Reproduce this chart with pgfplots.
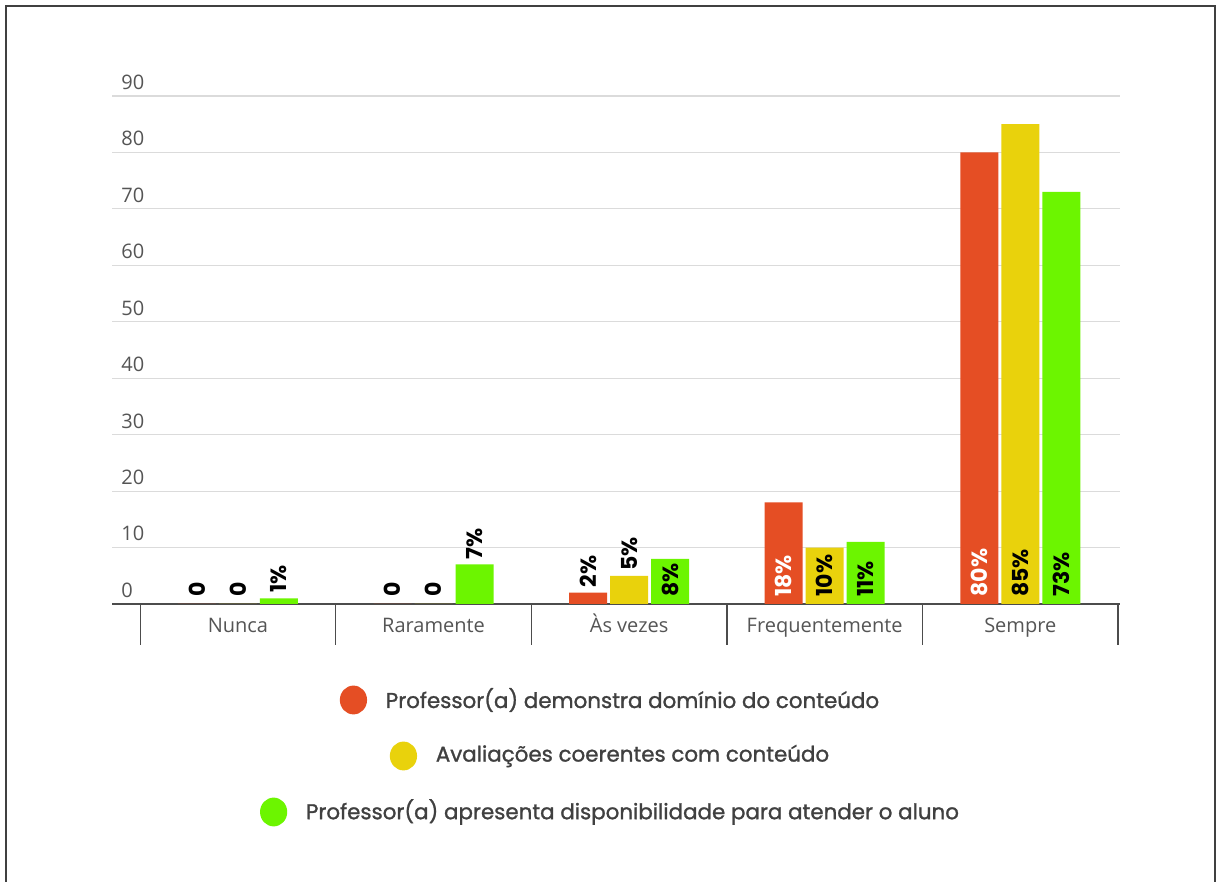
\documentclass[border=0pt]{standalone}
\usepackage{fontspec}
\usepackage{pgfplots}
\pgfplotsset{compat=1.18}
\setmainfont{Open Sans}
\newfontfamily\popfont{Poppins}
\newfontfamily\legfont{Poppins}[FakeBold=1.2]
\definecolor{cred}{HTML}{E54E24}
\definecolor{cyel}{HTML}{E9D20C}
\definecolor{cgrn}{HTML}{6CF500}
\definecolor{txtgray}{HTML}{555555}
\pgfplotsset{
  lbl/.style={draw=none, fill=none, forget plot, nodes near coords,
    point meta=explicit symbolic,
    nodes near coords style={rotate=90, anchor=west, text=#1,
      font=\popfont\bfseries\fontsize{11}{13}\selectfont}},
}
\begin{document}
\begin{tikzpicture}
\fill[white] (0,0) rectangle (610pt,441pt);
\useasboundingbox (0,0) rectangle (610pt,441pt);
\draw[black!75, line width=1pt] (3pt,0) -- (3pt,438pt) -- (607.5pt,438pt) -- (607.5pt,0);
\begin{axis}[
  at={(56pt,139pt)}, anchor=south west,
  scale only axis, width=504pt, height=254pt,
  ybar, bar width=19pt,
  xmin=-0.644, xmax=4.51, ymin=0, ymax=90,
  enlargelimits=false,
  axis lines*=left,
  y axis line style={draw=none},
  x axis line style={draw=black!70, line width=1.2pt},
  ytick={0,10,...,90},
  ytick style={draw=none},
  ymajorgrids, grid style={draw=black!14, line width=0.6pt},
  yticklabel style={anchor=south west, inner sep=0pt, xshift=4.5pt, yshift=3pt,
    text=txtgray, font=\fontsize{10}{12}\selectfont},
  /pgf/number format/assume math mode=true,
  xtick={0,...,4},
  xticklabels={Nunca,Raramente,Às vezes,Frequentemente,Sempre},
  major tick length=0pt,
  xtick style={draw=black!70, line width=0.6pt},
  xticklabel style={text=txtgray, font=\fontsize{10}{12}\selectfont,
    anchor=base, yshift=-14.5pt},
  tick align=outside,
  extra x ticks={-0.5,0.5,1.5,2.5,3.5,4.5},
  extra x tick labels={},
  extra x tick style={major tick length=20.5pt},
]
% bars
\addplot[bar shift=-20.5pt, fill=cred, draw=none] coordinates {(0,0) (1,0) (2,2) (3,18) (4,80)};
\addplot[bar shift=0pt, fill=cyel, draw=none] coordinates {(0,0) (1,0) (2,5) (3,10) (4,85)};
\addplot[bar shift=20.5pt, fill=cgrn, draw=none] coordinates {(0,1) (1,7) (2,8) (3,11) (4,73)};
% labels above the bars
\addplot[lbl=black, bar shift=-20.5pt, nodes near coords style={inner sep=2.5pt}]
  coordinates {(2,2) [2\%]};
\addplot[lbl=black, bar shift=0pt, nodes near coords style={inner sep=2.5pt}]
  coordinates {(2,5) [5\%]};
\addplot[lbl=black, bar shift=20.5pt, nodes near coords style={inner sep=2.5pt}]
  coordinates {(0,1) [1\%] (1,7) [7\%]};
% labels from the base
\addplot[lbl=white, bar shift=-20.5pt, nodes near coords style={inner sep=3.5pt}]
  coordinates {(3,0) [18\%] (4,0) [80\%]};
\addplot[lbl=black, bar shift=-20.5pt, nodes near coords style={inner sep=3.5pt}]
  coordinates {(0,0) [0] (1,0) [0]};
\addplot[lbl=black, bar shift=0pt, nodes near coords style={inner sep=3.5pt}]
  coordinates {(0,0) [0] (1,0) [0] (3,0) [10\%] (4,0) [85\%]};
\addplot[lbl=black, bar shift=20.5pt, nodes near coords style={inner sep=3.5pt}]
  coordinates {(2,0) [8\%] (3,0) [11\%] (4,0) [73\%]};
\end{axis}
% legend
\begin{scope}[every node/.style={inner sep=0pt, text=black!75,
    font=\legfont\fontsize{10.7}{12}\selectfont}]
\node (l1) at (316.25pt,91pt) {Professor(a) demonstra domínio do conteúdo};
\node (l2) at (316.25pt,63pt) {Avaliações coerentes com conteúdo};
\node (l3) at (316.25pt,35pt) {Professor(a) apresenta disponibilidade para atender o aluno};
\fill[cred] ([xshift=-16pt]l1.west) ellipse (6.8pt and 7.2pt);
\fill[cyel] ([xshift=-16pt]l2.west) ellipse (6.8pt and 7.2pt);
\fill[cgrn] ([xshift=-16pt]l3.west) ellipse (6.8pt and 7.2pt);
\end{scope}
\end{tikzpicture}
\end{document}
